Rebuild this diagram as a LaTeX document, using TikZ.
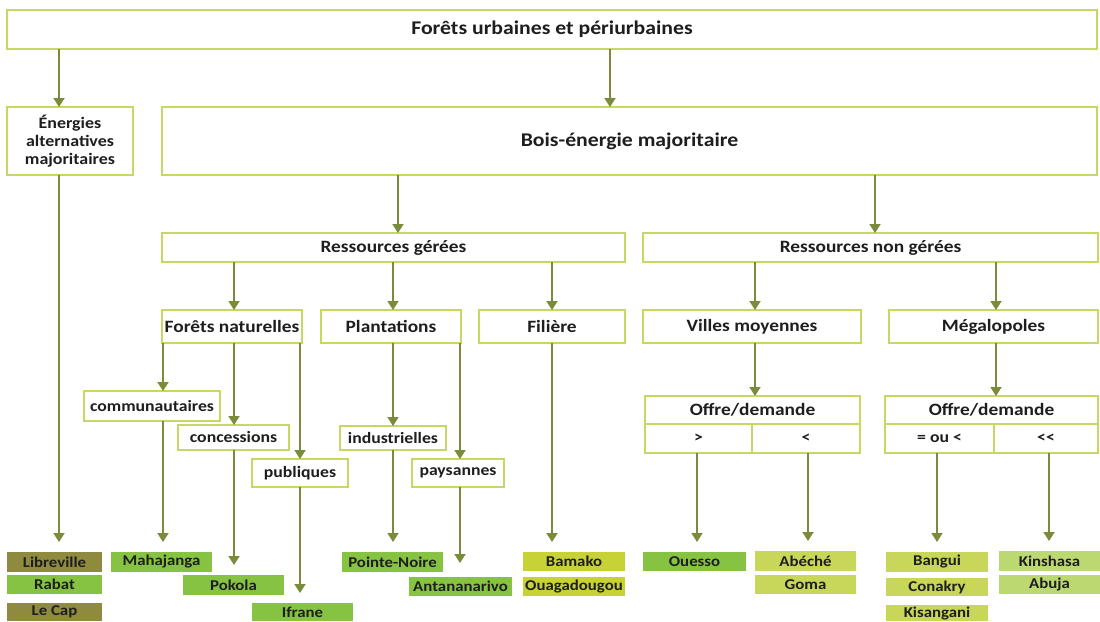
\documentclass[tikz,border=0pt]{standalone}
\usepackage{fontspec}
\setmainfont{Carlito}[FakeStretch=1.12]
\usetikzlibrary{arrows.meta}
\definecolor{bord}{HTML}{C6D862}
\definecolor{arrc}{HTML}{7A8B39}
\definecolor{cgreen}{HTML}{86C342}
\definecolor{colive}{HTML}{8E8A3E}
\definecolor{cyel}{HTML}{C6D236}
\definecolor{cyel2}{HTML}{C8D65A}
\definecolor{clight}{HTML}{BCD870}
\definecolor{txt}{HTML}{1E1E1E}
\newcommand\bx[7]{%
  \node[#7, minimum width={#3-#2}, minimum height={#5-#4}] (#1) at ({(#2+#3)/2},{(#4+#5)/2}) {#6};}
\tikzset{
  base/.style={inner sep=0pt, outer sep=0pt, text=txt, align=center},
  box/.style={base, draw=bord, line width=1.6pt, fill=white},
  ftitle/.style={font=\fontsize{19.4}{21}\selectfont\bfseries},
  fmid/.style={font=\fontsize{17.3}{19}\selectfont\bfseries},
  fsub/.style={font=\fontsize{15.8}{17}\selectfont\bfseries},
  city/.style={base, font=\fontsize{15}{16}\selectfont\bfseries},
  gcity/.style={city, fill=cgreen},
  ocity/.style={city, fill=colive},
  ycity/.style={city, fill=cyel},
  y2city/.style={city, fill=cyel2},
  lcity/.style={city, fill=clight},
  arr/.style={draw=arrc, line width=1.8pt, -{Triangle[width=11pt,length=9pt]}},
  arrs/.style={arr, shorten >=10pt},
}
\begin{document}
\begin{tikzpicture}[x=1pt,y=-1pt]
\useasboundingbox (0,0) rectangle (1100,621);
% level boxes
\bx{top}{7}{1097}{10}{49}{Forêts urbaines et périurbaines}{box,ftitle}
\bx{ener}{7}{133}{107}{175}{Énergies\\alternatives\\majoritaires}{box,fsub,font=\fontsize{16}{18}\selectfont\bfseries}
\bx{bois}{162}{1097}{107}{175}{Bois-énergie majoritaire}{box,ftitle}
\bx{rg}{162}{625}{233}{262}{Ressources gérées}{box,fmid}
\bx{rng}{643}{1098}{233}{262}{Ressources non gérées}{box,fmid}
\bx{fn}{162}{302}{310}{343}{Forêts naturelles}{box,fmid}
\bx{pl}{321}{461}{310}{343}{Plantations}{box,fmid}
\bx{fi}{479}{625}{310}{343}{Filière}{box,fmid}
\bx{vm}{643}{861}{310}{343}{Villes moyennes}{box,fmid}
\bx{me}{889}{1098}{310}{343}{Mégalopoles}{box,fmid}
\bx{comm}{84}{220}{391}{421}{communautaires}{box,fsub}
\bx{conc}{178}{289}{425}{450}{concessions}{box,fsub}
\bx{pub}{252}{348}{459}{487}{publiques}{box,fsub}
\bx{ind}{340}{446}{426}{450}{industrielles}{box,fsub}
\bx{pay}{412}{504}{459}{487}{paysannes}{box,fsub}
\bx{oda}{645}{860}{396}{424}{Offre/demande}{box,fmid}
\bx{odaa}{645}{752}{424}{453}{>}{box,fsub}
\bx{odab}{752}{860}{424}{453}{<}{box,fsub}
\bx{odb}{885}{1098}{396}{424}{Offre/demande}{box,fmid}
\bx{odba}{885}{994}{424}{453}{= ou <}{box,fsub}
\bx{odbb}{994}{1098}{424}{453}{<\kern0pt<}{box,fsub}
% cities
\bx{libr}{7}{102}{552}{572}{Libreville}{ocity}
\bx{raba}{7}{102}{575}{594}{Rabat}{gcity}
\bx{lcap}{7}{102}{603}{621}{Le Cap}{ocity}
\bx{maha}{111}{212}{552}{572}{Mahajanga}{gcity}
\bx{poko}{183}{284}{575}{595}{Pokola}{gcity}
\bx{ifra}{252}{353}{603}{621}{Ifrane}{gcity}
\bx{pnoi}{342}{443}{552}{572}{Pointe-Noire}{gcity}
\bx{anta}{409}{512}{577}{596}{Antananarivo}{gcity}
\bx{bama}{523}{625}{552}{571}{Bamako}{ycity}
\bx{ouag}{523}{625}{577}{596}{Ouagadougou}{ycity}
\bx{oues}{643}{746}{552}{571}{Ouesso}{gcity}
\bx{abec}{755}{856}{551}{571}{Abéché}{y2city}
\bx{goma}{755}{856}{575}{594}{Goma}{y2city}
\bx{bang}{886}{988}{552}{572}{Bangui}{y2city}
\bx{cona}{886}{988}{578}{596}{Conakry}{y2city}
\bx{kisa}{886}{988}{605}{621}{Kisangani}{y2city}
\bx{kins}{999}{1100}{551}{571}{Kinshasa}{lcity}
\bx{abuj}{999}{1100}{575}{594}{Abuja}{lcity}
% connectors
\draw[arr] (top.south -| 59,0) -- (ener.north -| 59,0);
\draw[arr] (top.south -| 610,0) -- (bois.north -| 610,0);
\draw[arr] (bois.south -| 398,0) -- (rg.north -| 398,0);
\draw[arr] (bois.south -| 875,0) -- (rng.north -| 875,0);
\draw[arr] (rg.south -| 234,0) -- (fn.north -| 234,0);
\draw[arr] (rg.south -| 393,0) -- (pl.north -| 393,0);
\draw[arr] (rg.south -| 552,0) -- (fi.north -| 552,0);
\draw[arr] (rng.south -| 755,0) -- (vm.north -| 755,0);
\draw[arr] (rng.south -| 996,0) -- (me.north -| 996,0);
\draw[arr] (fn.south -| 163,0) -- (comm.north -| 163,0);
\draw[arr] (fn.south -| 234,0) -- (conc.north -| 234,0);
\draw[arr] (fn.south -| 300,0) -- (pub.north -| 300,0);
\draw[arr] (pl.south -| 393,0) -- (ind.north -| 393,0);
\draw[arr] (pl.south -| 460,0) -- (pay.north -| 460,0);
\draw[arr] (vm.south -| 755,0) -- (oda.north -| 755,0);
\draw[arr] (me.south -| 996,0) -- (odb.north -| 996,0);
\draw[arrs] (ener.south -| 59,0) -- (libr.north -| 59,0);
\draw[arrs] (comm.south -| 163,0) -- (maha.north -| 163,0);
\draw[arrs] (conc.south -| 234,0) -- (poko.north -| 234,0);
\draw[arrs] (pub.south -| 300,0) -- (ifra.north -| 300,0);
\draw[arrs] (ind.south -| 393,0) -- (pnoi.north -| 393,0);
\draw[arrs,shorten >=14pt] (pay.south -| 460,0) -- (anta.north -| 460,0);
\draw[arrs] (fi.south -| 552,0) -- (bama.north -| 552,0);
\draw[arrs] (odaa.south -| 697,0) -- (oues.north -| 697,0);
\draw[arrs] (odab.south -| 808,0) -- (abec.north -| 808,0);
\draw[arrs] (odba.south -| 937,0) -- (bang.north -| 937,0);
\draw[arrs] (odbb.south -| 1049,0) -- (kins.north -| 1049,0);
\end{tikzpicture}
\end{document}
